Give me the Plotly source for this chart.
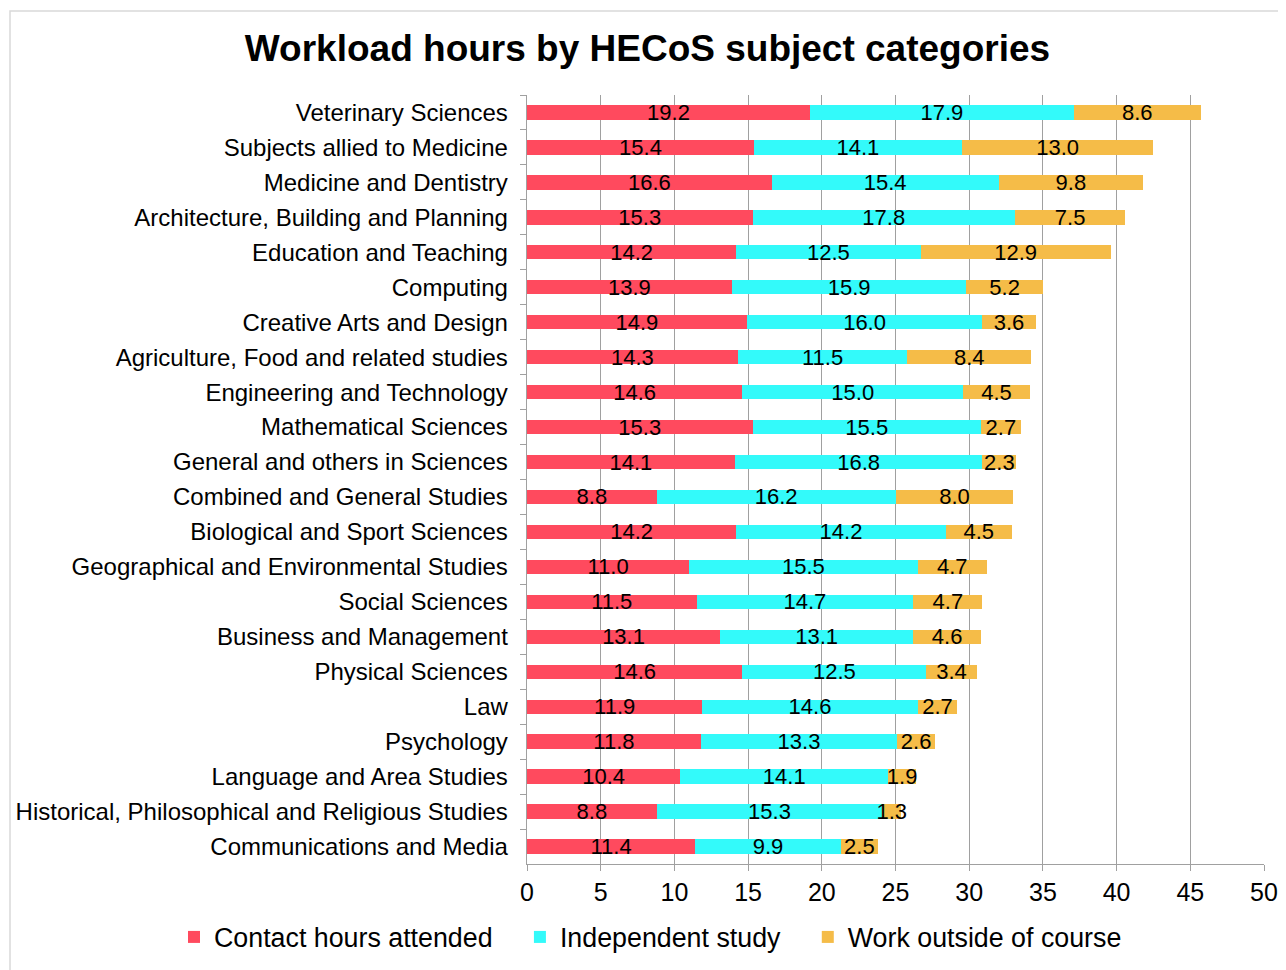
import plotly.graph_objects as go

categories = [
    "Veterinary Sciences", "Subjects allied to Medicine", "Medicine and Dentistry",
    "Architecture, Building and Planning", "Education and Teaching", "Computing",
    "Creative Arts and Design", "Agriculture, Food and related studies",
    "Engineering and Technology", "Mathematical Sciences", "General and others in Sciences",
    "Combined and General Studies", "Biological and Sport Sciences",
    "Geographical and Environmental Studies", "Social Sciences", "Business and Management",
    "Physical Sciences", "Law", "Psychology", "Language and Area Studies",
    "Historical, Philosophical and Religious Studies", "Communications and Media",
]
contact = [19.2, 15.4, 16.6, 15.3, 14.2, 13.9, 14.9, 14.3, 14.6, 15.3, 14.1,
           8.8, 14.2, 11.0, 11.5, 13.1, 14.6, 11.9, 11.8, 10.4, 8.8, 11.4]
independent = [17.9, 14.1, 15.4, 17.8, 12.5, 15.9, 16.0, 11.5, 15.0, 15.5, 16.8,
               16.2, 14.2, 15.5, 14.7, 13.1, 12.5, 14.6, 13.3, 14.1, 15.3, 9.9]
work = [8.6, 13.0, 9.8, 7.5, 12.9, 5.2, 3.6, 8.4, 4.5, 2.7, 2.3,
        8.0, 4.5, 4.7, 4.7, 4.6, 3.4, 2.7, 2.6, 1.9, 1.3, 2.5]
series_names = ["Contact hours attended", "Independent study", "Work outside of course"]
colors = ["#FF4A5E", "#33FAFA", "#F5BC48"]

FONT = "Liberation Sans, Arial, sans-serif"
W, H = 1278, 962
L, R, T, B = 519, 22, 87, 106
plot_w = W - L - R
plot_h = H - T - B

fig = go.Figure()
for name, vals, col in zip(series_names, [contact, independent, work], colors):
    fig.add_trace(go.Bar(
        y=categories, x=vals, name=name + "\u00a0\u00a0\u00a0", orientation="h",
        marker=dict(color=col, line=dict(width=0)),
        text=[f"{v:.1f}" for v in vals], textposition="inside",
        insidetextanchor="middle", constraintext="none",
        textfont=dict(color="black", size=22, family=FONT),
        width=0.41,
    ))

fig.update_layout(
    barmode="stack",
    width=W, height=H,
    paper_bgcolor="white", plot_bgcolor="white",
    margin=dict(l=L, r=R, t=T, b=B, autoexpand=False),
    font=dict(family=FONT, color="black", size=22),
    uniformtext=dict(minsize=22, mode="show"),
    title=dict(text="<b>Workload hours by HECoS subject categories</b>",
               x=0.5004, xanchor="center", y=1 - 40 / H, yanchor="middle",
               xref="container", yref="container",
               font=dict(size=37, family=FONT, color="black")),
    legend=dict(orientation="h", xref="paper", yref="paper",
                x=(188 - 14 - 8 - L) / plot_w, xanchor="left",
                y=-(929 - (H - B)) / plot_h, yanchor="middle",
                font=dict(size=26.8, family=FONT), itemwidth=30,
                traceorder="normal", bgcolor="rgba(0,0,0,0)"),
    showlegend=True,
)
fig.update_xaxes(range=[0, 50], dtick=5, showgrid=True, gridcolor="#A0A0A0", gridwidth=1,
                 showline=True, linecolor="#A0A0A0", ticks="outside", ticklen=6,
                 tickcolor="#A0A0A0", tickfont=dict(size=25), zeroline=False,
                 automargin=False)
fig.update_yaxes(autorange="reversed", showline=True, linecolor="#A0A0A0",
                 ticks="outside", ticklen=6, tickcolor="#A0A0A0", tickson="boundaries",
                 tickfont=dict(size=24), ticksuffix="  ", showgrid=False,
                 automargin=False)

# outer chart border
fig.add_shape(type="rect", xref="paper", yref="paper",
              x0=(2 - L) / plot_w, x1=(W + 10 - L) / plot_w,
              y0=-(B + 10) / plot_h, y1=(plot_h + T - 3) / plot_h,
              line=dict(color="#D9D9D9", width=1.5), fillcolor="rgba(0,0,0,0)", layer="below")

fig.write_html("out.html")
